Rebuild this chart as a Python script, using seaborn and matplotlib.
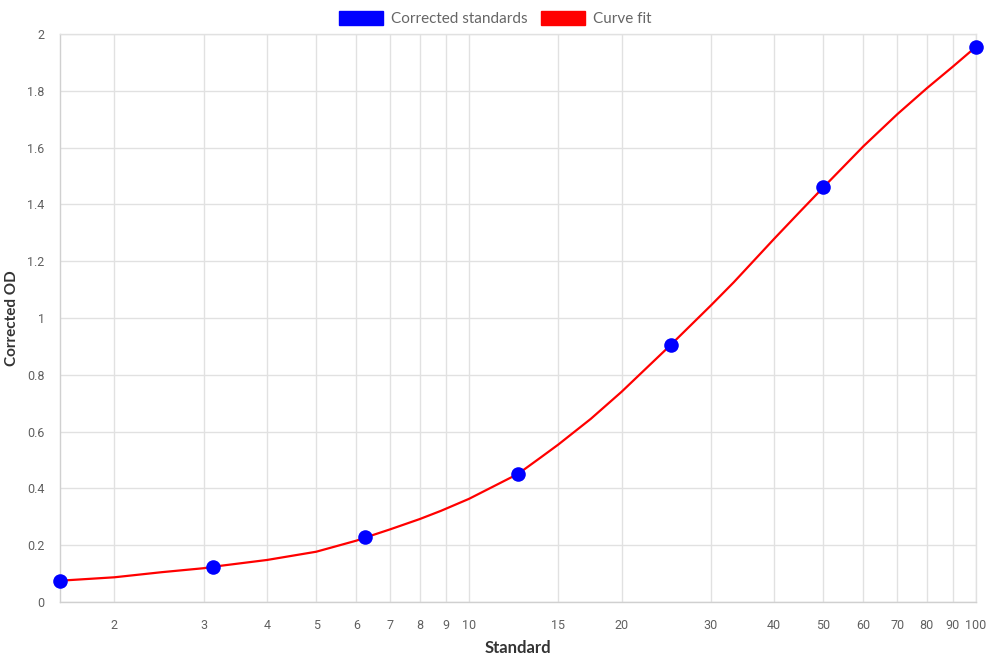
import matplotlib
matplotlib.use("Agg")
import matplotlib.pyplot as plt
import seaborn as sns
import pandas as pd
from matplotlib.patches import Patch
from matplotlib.ticker import FixedLocator, FixedFormatter, NullLocator

# Data
std_x = [1.5625, 3.125, 6.25, 12.5, 25, 50, 100]
std_y = [0.075, 0.125, 0.228, 0.451, 0.905, 1.462, 1.955]

fit_x = [1.5625, 2, 2.48, 3, 3.125, 4, 5, 6, 6.25, 7, 8, 8.81, 10, 11.21, 12.5,
         13.86, 15, 17.4, 20, 25, 30, 33.3, 40, 45, 50, 60, 70, 80, 90, 100]
fit_y = [0.075, 0.087, 0.105, 0.119, 0.124, 0.148, 0.177, 0.216, 0.227, 0.256,
         0.292, 0.321, 0.363, 0.408, 0.451, 0.509, 0.554, 0.645, 0.740, 0.905,
         1.044, 1.126, 1.279, 1.375, 1.460, 1.605, 1.718, 1.809, 1.885, 1.955]

x_ticks = [2, 3, 4, 5, 6, 7, 8, 9, 10, 15, 20, 30, 40, 50, 60, 70, 80, 90, 100]
x_tick_labels = [str(v) for v in x_ticks]
y_ticks = [0, 0.2, 0.4, 0.6, 0.8, 1.0, 1.2, 1.4, 1.6, 1.8, 2.0]
y_tick_labels = ["0", "0.2", "0.4", "0.6", "0.8", "1", "1.2", "1.4", "1.6", "1.8", "2"]

series_labels = ["Corrected standards", "Curve fit"]
colors = ["#0000ff", "#ff0000"]

sns.set_theme(style="white")
plt.rcParams['font.family'] = ['Roboto', 'DejaVu Sans']

fig = plt.figure(figsize=(9.9, 6.6), dpi=100)
ax = fig.add_axes([60/990, 1-602/660, (976-60)/990, (602-34)/660])

df_fit = pd.DataFrame({"x": fit_x, "y": fit_y})
df_std = pd.DataFrame({"x": std_x, "y": std_y})

sns.lineplot(data=df_fit, x="x", y="y", ax=ax, color=colors[1], linewidth=1.6,
             zorder=3, legend=False, sort=True)
sns.scatterplot(data=df_std, x="x", y="y", ax=ax, color=colors[0], s=110,
                edgecolor=colors[0], linewidth=0, zorder=4, legend=False, clip_on=False)

ax.set_xscale("log")
ax.set_xlim(1.5625, 100)
ax.set_ylim(0, 2)
ax.xaxis.set_major_locator(FixedLocator(x_ticks))
ax.xaxis.set_major_formatter(FixedFormatter(x_tick_labels))
ax.xaxis.set_minor_locator(NullLocator())
ax.yaxis.set_major_locator(FixedLocator(y_ticks))
ax.yaxis.set_major_formatter(FixedFormatter(y_tick_labels))

grid_c = "#e1e1e1"
ax.grid(True, color=grid_c, linewidth=1, zorder=0)
ax.set_axisbelow(True)
for s in ["left", "bottom"]:
    ax.spines[s].set_color("#d0d0d0")
    ax.spines[s].set_linewidth(1)
for s in ["top", "right"]:
    ax.spines[s].set_color(grid_c)
    ax.spines[s].set_linewidth(1)

ax.tick_params(axis="both", which="major", length=8, width=1, color=grid_c,
               labelsize=9, labelcolor="#606060", pad=3)
ax.tick_params(axis="x", pad=4)

ax.set_xlabel("Standard", fontsize=12, fontweight="bold", color="#333333",
              family=["Lato", "DejaVu Sans"], labelpad=6)
ax.set_ylabel("Corrected OD", fontsize=11, fontweight="bold", color="#333333",
              family=["Lato", "DejaVu Sans"], labelpad=6)

handles = [Patch(facecolor=colors[0], edgecolor=colors[0]),
           Patch(facecolor=colors[1], edgecolor=colors[1])]
fig.legend(handles, series_labels, loc="upper center", bbox_to_anchor=(0.5, 1.0),
           ncol=2, frameon=False, handlelength=2.9, handleheight=0.95,
           handletextpad=0.5, columnspacing=0.9, borderaxespad=0.35,
           prop={"family": ["Lato", "DejaVu Sans"], "size": 11},
           labelcolor="#666666")

fig.savefig("out.png", dpi=100)
